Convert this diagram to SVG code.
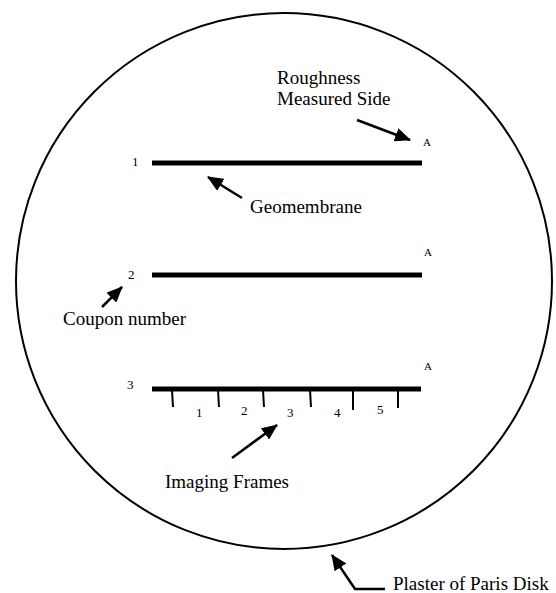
<svg xmlns="http://www.w3.org/2000/svg" width="556" height="593" viewBox="0 0 556 593">
<style>
.lbl{font-family:"Liberation Serif","Times New Roman",serif;font-size:19px;fill:#000}
.num{font-family:"Liberation Serif","Times New Roman",serif;font-size:13px;fill:#000}
.a{font-family:"Liberation Serif","Times New Roman",serif;font-size:11px;fill:#000}
.coupon{stroke:#000;stroke-width:5;fill:none}
.tick{stroke:#000;stroke-width:2;fill:none}
.arr{stroke:#000;stroke-width:2.5;fill:none}
</style>
<defs>
<marker id="ah" markerUnits="userSpaceOnUse" markerWidth="16" markerHeight="14" refX="15" refY="7" orient="auto">
<path d="M0,0 L16,7 L0,14 Z" fill="#000"/>
</marker>
</defs>
<rect width="556" height="593" fill="#fff"/>
<g id="disk">
<circle cx="284" cy="281" r="268" fill="none" stroke="#000" stroke-width="2"/>
</g>
<g id="coupon1">
<line class="coupon" x1="152" y1="163" x2="422" y2="163"/>
<text class="num" x="132" y="166">1</text>
<text class="a" x="423" y="146">A</text>
</g>
<g id="coupon2">
<line class="coupon" x1="152" y1="275" x2="422" y2="275"/>
<text class="num" x="128" y="279">2</text>
<text class="a" x="424" y="256">A</text>
</g>
<g id="coupon3">
<line class="coupon" x1="152" y1="389" x2="421" y2="389"/>
<text class="num" x="127" y="389">3</text>
<text class="a" x="424" y="370">A</text>
<line class="tick" x1="172" y1="390" x2="173" y2="407"/>
<line class="tick" x1="218" y1="390" x2="219" y2="407"/>
<line class="tick" x1="263" y1="390" x2="264" y2="407"/>
<line class="tick" x1="310" y1="390" x2="311" y2="407"/>
<line class="tick" x1="353" y1="390" x2="353" y2="410"/>
<line class="tick" x1="398" y1="390" x2="398" y2="408"/>
<text class="num" x="196" y="417">1</text>
<text class="num" x="241" y="415">2</text>
<text class="num" x="287" y="417">3</text>
<text class="num" x="334" y="417">4</text>
<text class="num" x="377" y="414">5</text>
</g>
<g id="labels">
<text class="lbl" x="277" y="84">Roughness</text>
<text class="lbl" x="277" y="105">Measured Side</text>
<text class="lbl" x="250" y="213">Geomembrane</text>
<text class="lbl" x="63" y="325">Coupon number</text>
<text class="lbl" x="165" y="488">Imaging Frames</text>
<text class="lbl" x="393" y="590">Plaster of Paris Disk</text>
</g>
<g id="connectors">
<line class="arr" x1="357" y1="120" x2="410" y2="140" marker-end="url(#ah)"/>
<line class="arr" x1="242" y1="198" x2="208" y2="177" marker-end="url(#ah)"/>
<line class="arr" x1="102" y1="307" x2="122" y2="287" marker-end="url(#ah)"/>
<line class="arr" x1="232" y1="458" x2="277" y2="425" marker-end="url(#ah)"/>
<polyline class="arr" points="385,589 355,589 332,555" marker-end="url(#ah)"/>
</g>
</svg>
